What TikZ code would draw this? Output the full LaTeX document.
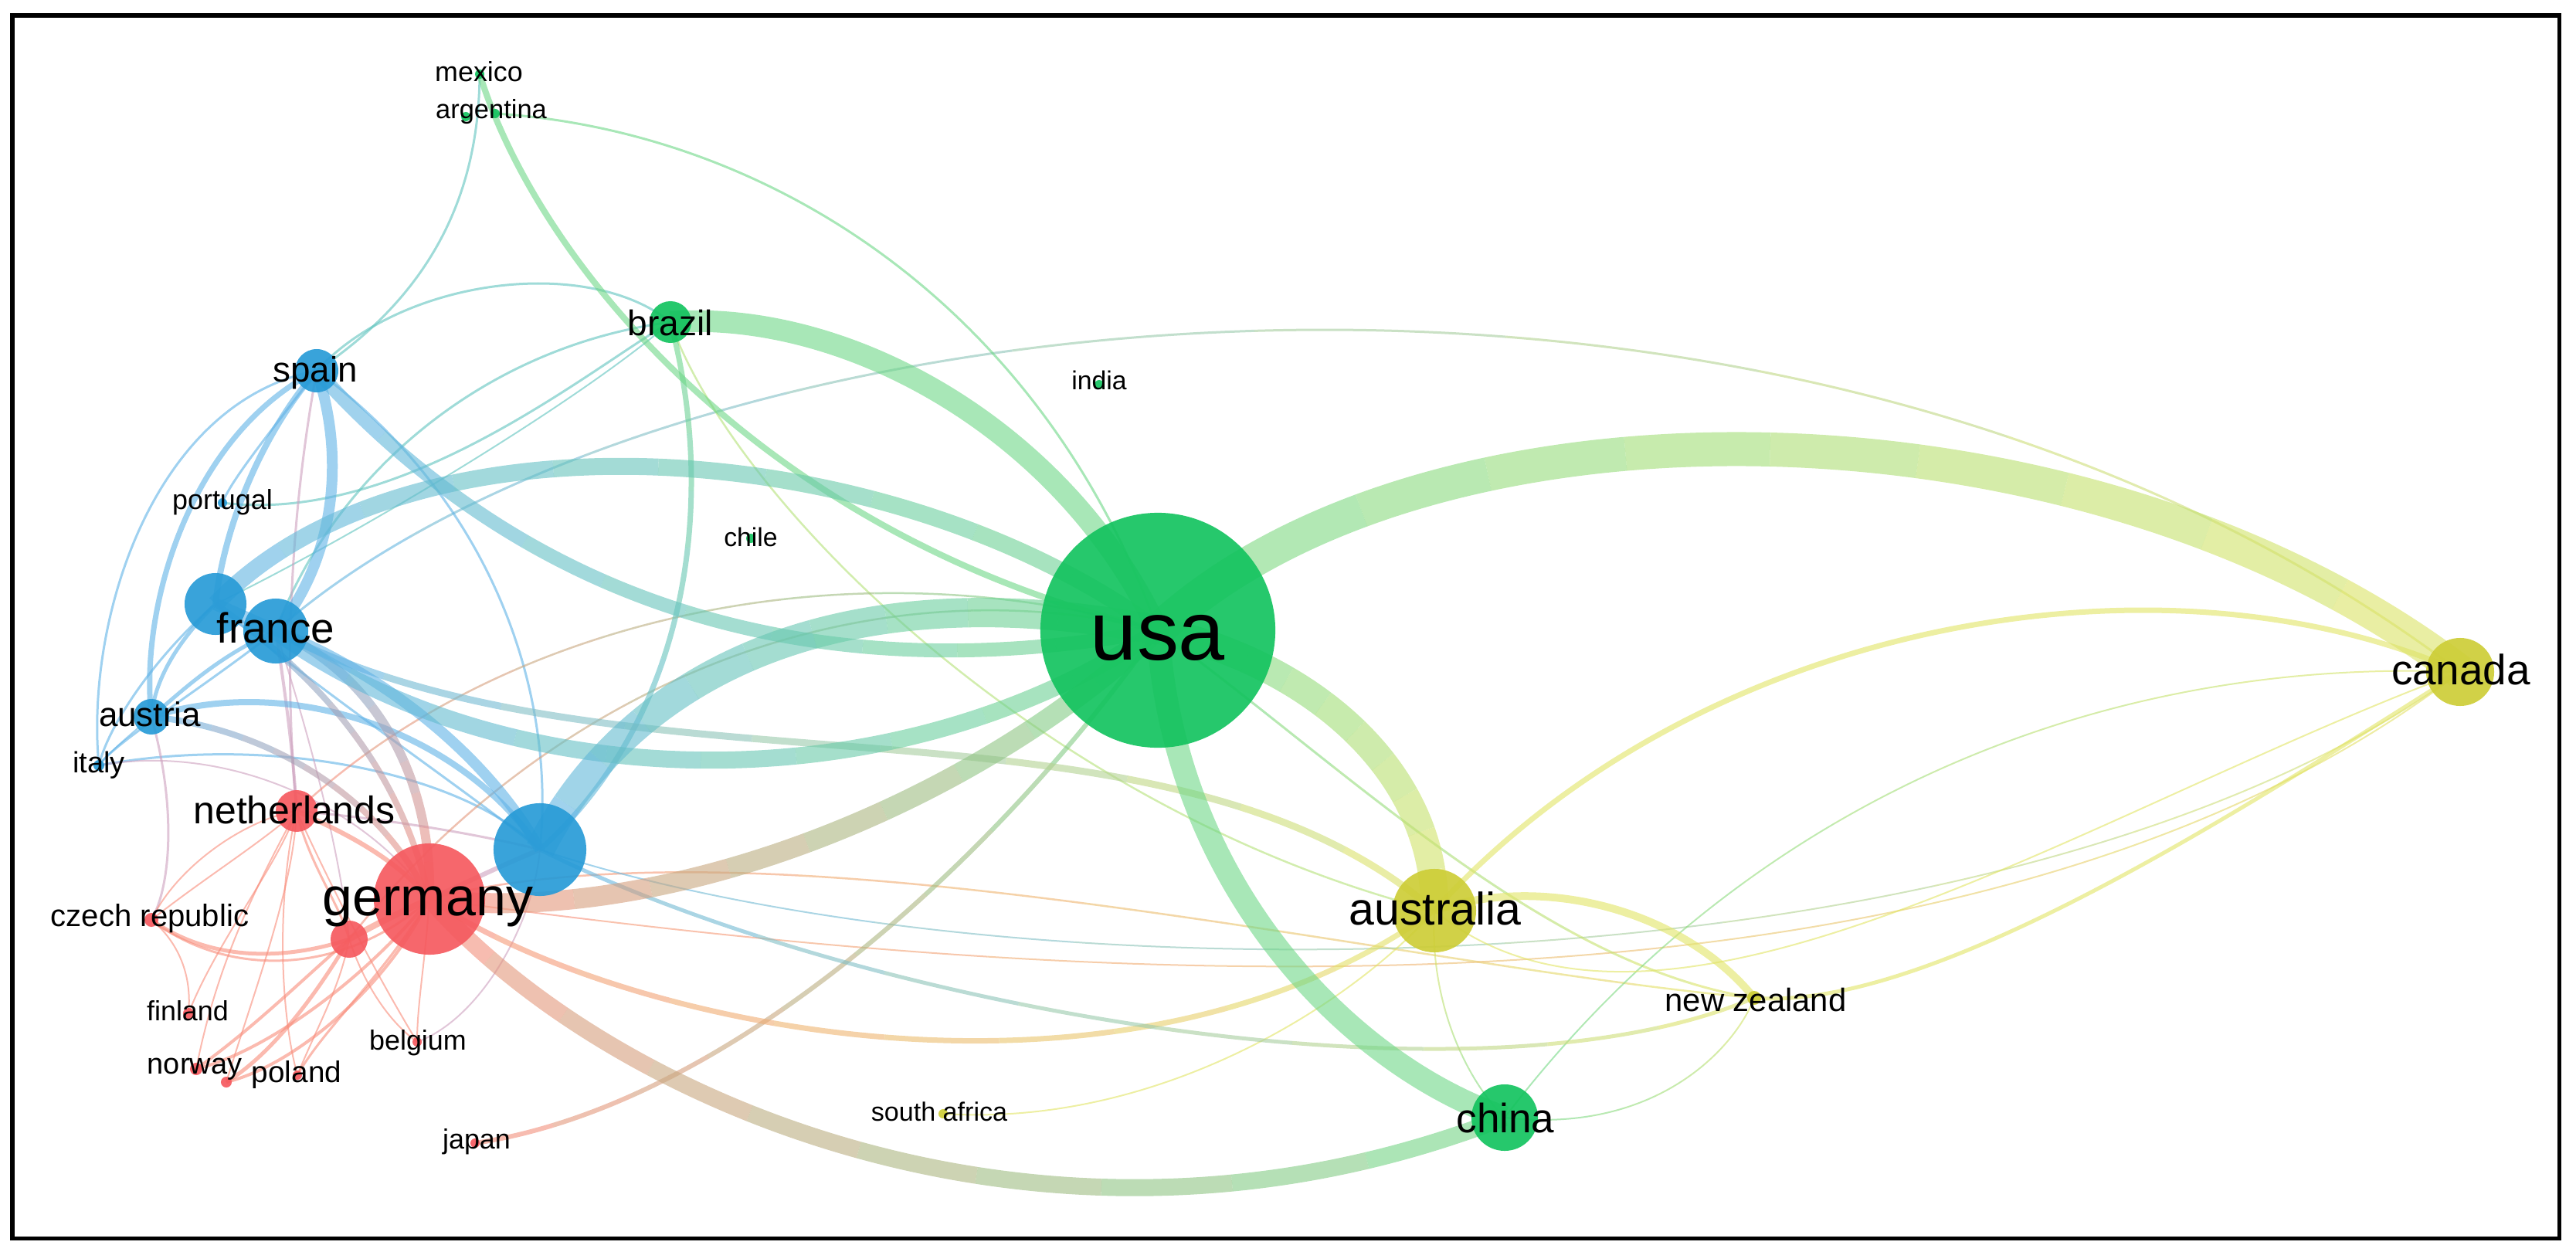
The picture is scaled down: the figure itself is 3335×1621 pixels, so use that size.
\documentclass[tikz,border=0pt]{standalone}
\usepackage{fontspec}
\setmainfont{Liberation Sans}
\definecolor{nG}{RGB}{20,195,95}
\definecolor{nB}{RGB}{40,155,215}
\definecolor{nR}{RGB}{245,90,95}
\definecolor{nY}{RGB}{205,205,55}
\definecolor{cG}{RGB}{110,215,135}
\definecolor{cB}{RGB}{95,178,230}
\definecolor{cR}{RGB}{248,140,122}
\definecolor{cY}{RGB}{225,228,100}
\definecolor{cBG}{RGB}{95,195,190}
\definecolor{cRB}{RGB}{205,160,190}
\definecolor{cRG}{RGB}{210,175,140}
\definecolor{cGY}{RGB}{180,225,120}
\definecolor{cBY}{RGB}{160,200,175}
\definecolor{cRY}{RGB}{245,175,110}
\newcommand\lnk[6]{\draw[#1,line width=#2*0.01cm] (#3) .. controls (#5) and (#6) .. (#4);}
% gradient connector: colour A, colour B, width, from, to, c1x, c1y, c2x, c2y
\newcommand\glnk[9]{%
  \foreach \k in {0,...,9}{%
    \pgfmathsetmacro\ta{\k/10}%
    \pgfmathsetmacro\tb{(\k+1)/10}%
    \pgfmathtruncatemacro\pc{100-(\k+0.5)*10}%
    \begin{pgfscope}%
      \pgfmathsetlengthmacro\lw{#3*0.01cm}%
      \pgfsetlinewidth{\lw}%
      \pgfsetstrokecolor{#1!\pc!#2}%
      \pgfsetstrokeopacity{0.6}%
      \pgfpathcurvebetweentime{\ta}{\tb}{\pgfpointanchor{#4}{center}}{\pgfpointxy{#6}{#7}}{\pgfpointxy{#8}{#9}}{\pgfpointanchor{#5}{center}}%
      \pgfusepath{stroke}%
    \end{pgfscope}}}
\newcommand\fsz[1]{\fontsize{#1}{#1}\selectfont}
\begin{document}
\begin{tikzpicture}[x=0.01cm,y=-0.01cm,
  eG/.style={draw=cG,draw opacity=0.6},
  eB/.style={draw=cB,draw opacity=0.6},
  eR/.style={draw=cR,draw opacity=0.6},
  eY/.style={draw=cY,draw opacity=0.6},
  eBG/.style={draw=cBG,draw opacity=0.6},
  eRB/.style={draw=cRB,draw opacity=0.6},
  eRG/.style={draw=cRG,draw opacity=0.6},
  eGY/.style={draw=cGY,draw opacity=0.6},
  eBY/.style={draw=cBY,draw opacity=0.6},
  eRY/.style={draw=cRY,draw opacity=0.6},
  nd/.style={circle,inner sep=0pt,draw=none,fill opacity=0.92},
  lb/.style={anchor=base,inner sep=0pt,text=black}]
\useasboundingbox (0,0) rectangle (3335,1621);
% node positions
\coordinate (usa) at (1499,816);
\coordinate (canada) at (3185,870);
\coordinate (australia) at (1857,1179);
\coordinate (china) at (1948,1447);
\coordinate (newzealand) at (2271,1292);
\coordinate (southafrica) at (1221,1442);
\coordinate (india) at (1423,498);
\coordinate (chile) at (972,697);
\coordinate (brazil) at (868,417);
\coordinate (mexico) at (621,96);
\coordinate (argentina) at (641,147);
\coordinate (arg2) at (603,151);
\coordinate (spain) at (410,480);
\coordinate (portugal) at (288,651);
\coordinate (blueL) at (279,782);
\coordinate (france) at (357,817);
\coordinate (austria) at (196,928);
\coordinate (italy) at (128,991);
\coordinate (netherlands) at (384,1050);
\coordinate (blueB) at (699,1100);
\coordinate (germany) at (556,1164);
\coordinate (redS) at (452,1216);
\coordinate (czech) at (196,1191);
\coordinate (finland) at (244,1312);
\coordinate (norway) at (254,1384);
\coordinate (norway2) at (293,1401);
\coordinate (poland) at (385,1392);
\coordinate (belgium) at (540,1349);
\coordinate (japan) at (615,1480);
% thin edges
\glnk{cB}{cY}{3}{france}{canada}{850}{380}{2300}{200}
\lnk{eG}{3}{argentina}{usa}{1000,170}{1350,400}
\lnk{eBG}{3}{spain}{mexico}{560,380}{620,250}
\lnk{eBG}{3}{spain}{brazil}{520,360}{760,330}
\lnk{eBG}{3}{portugal}{brazil}{520,680}{760,480}
\lnk{eBG}{3}{brazil}{france}{620,450}{430,620}
\lnk{eBG}{2}{brazil}{blueL}{750,520}{450,700}
\lnk{eGY}{2.5}{brazil}{australia}{950,650}{1350,1050}
\lnk{eB}{3}{spain}{italy}{200,520}{110,800}
\lnk{eB}{3}{spain}{portugal}{350,560}{300,620}
\lnk{eB}{3}{spain}{blueB}{640,650}{720,900}
\lnk{eRB}{3}{spain}{netherlands}{370,700}{370,900}
\lnk{eB}{3}{blueL}{italy}{200,850}{140,940}
\lnk{eB}{3}{france}{italy}{250,900}{150,960}
\lnk{eB}{2}{austria}{italy}{170,950}{140,975}
\lnk{eB}{3}{italy}{blueB}{350,950}{600,1000}
\lnk{eRB}{2}{italy}{germany}{300,960}{480,1050}
\lnk{eRB}{3}{austria}{czech}{230,1050}{220,1150}
\lnk{eB}{3}{blueL}{blueB}{420,900}{600,1020}
\lnk{eRB}{2}{france}{redS}{400,950}{440,1100}
\lnk{eRB}{3}{netherlands}{blueB}{500,1060}{620,1080}
\lnk{eR}{2}{czech}{netherlands}{230,1120}{320,1060}
\lnk{eR}{2}{czech}{netherlands}{260,1140}{340,1090}
\lnk{eR}{3}{czech}{germany}{300,1270}{450,1260}
\lnk{eR}{2}{finland}{czech}{250,1250}{220,1210}
\lnk{eR}{2}{finland}{netherlands}{280,1220}{360,1120}
\lnk{eR}{2}{norway}{netherlands}{280,1250}{330,1150}
\lnk{eR}{2}{norway2}{netherlands}{330,1280}{380,1150}
\lnk{eR}{2}{poland}{netherlands}{360,1300}{360,1150}
\lnk{eR}{2}{poland}{redS}{410,1330}{440,1280}
\lnk{eR}{3}{poland}{germany}{420,1330}{500,1260}
\lnk{eR}{2}{belgium}{germany}{540,1300}{550,1250}
\lnk{eR}{2}{belgium}{redS}{500,1320}{470,1270}
\lnk{eR}{2}{belgium}{netherlands}{480,1250}{420,1130}
\lnk{eRB}{2}{belgium}{blueB}{620,1320}{690,1200}
\glnk{cR}{cG}{2.5}{netherlands}{usa}{650}{800}{1100}{700}
\glnk{cR}{cG}{2.5}{redS}{usa}{700}{900}{1100}{720}
\glnk{cR}{cY}{2.5}{germany}{newzealand}{1000}{1050}{1800}{1250}
\glnk{cB}{cY}{2}{blueB}{canada}{1300}{1300}{2600}{1300}
\glnk{cR}{cY}{2}{germany}{canada}{1200}{1250}{2500}{1400}
\glnk{cG}{cY}{3}{usa}{newzealand}{1750}{1000}{2000}{1250}
\glnk{cG}{cY}{2}{china}{canada}{2250}{1050}{2700}{850}
\glnk{cG}{cY}{2}{china}{newzealand}{2150}{1470}{2250}{1350}
\glnk{cY}{cG}{2}{australia}{china}{1850}{1300}{1900}{1400}
\lnk{eY}{2}{southafrica}{australia}{1500,1460}{1750,1300}
\lnk{eY}{2}{australia}{canada}{2150,1420}{2700,1050}
% medium edges
\lnk{eR}{4}{norway}{redS}{330,1330}{400,1260}
\lnk{eR}{4}{norway}{germany}{350,1360}{480,1260}
\lnk{eR}{5}{norway2}{redS}{360,1360}{420,1270}
\lnk{eR}{4}{norway2}{germany}{380,1380}{500,1280}
\lnk{eR}{5}{czech}{redS}{280,1250}{380,1240}
\lnk{eR}{3}{netherlands}{redS}{400,1120}{440,1170}
\lnk{eR}{6}{netherlands}{germany}{450,1080}{510,1110}
\lnk{eR}{8}{redS}{germany}{480,1200}{520,1180}
\lnk{eRB}{6}{germany}{blueB}{610,1140}{650,1120}
\lnk{eRB}{4}{france}{netherlands}{370,900}{380,980}
\lnk{eB}{5}{blueL}{austria}{230,830}{200,880}
\lnk{eB}{5}{france}{austria}{280,850}{230,900}
\lnk{eB}{7}{spain}{austria}{250,560}{180,780}
\lnk{eB}{8}{spain}{blueL}{340,560}{290,680}
\lnk{eB}{8}{austria}{blueB}{380,870}{600,950}
\glnk{cB}{cR}{8}{austria}{germany}{320}{940}{480}{1010}
\glnk{cB}{cR}{8}{blueL}{germany}{420}{880}{520}{1000}
\glnk{cB}{cR}{12}{france}{germany}{480}{870}{560}{1000}
\glnk{cG}{cB}{7}{brazil}{blueB}{930}{650}{890}{930}
\lnk{eG}{8}{mexico}{usa}{700,350}{1000,700}
\glnk{cR}{cG}{6}{japan}{usa}{950}{1430}{1300}{1100}
\glnk{cR}{cY}{7}{germany}{australia}{800}{1330}{1450}{1470}
\glnk{cB}{cY}{5}{blueB}{newzealand}{1100}{1300}{1900}{1450}
\glnk{cB}{cY}{9}{france}{australia}{800}{1050}{1500}{870}
\lnk{eY}{5}{newzealand}{canada}{2500,1310}{2900,1050}
\lnk{eY}{7}{australia}{canada}{2200,800}{2800,700}
\lnk{eY}{10}{australia}{newzealand}{2000,1130}{2180,1180}
% thick edges
\lnk{eB}{14}{spain}{france}{450,600}{430,730}
\lnk{eB}{16}{blueL}{france}{305,794}{331,805}
\lnk{eB}{14}{france}{blueB}{470,860}{620,960}
\glnk{cB}{cG}{18}{spain}{usa}{680}{780}{1050}{900}
\glnk{cB}{cG}{22}{blueL}{usa}{530}{520}{1150}{560}
\glnk{cB}{cG}{22}{france}{usa}{650}{1030}{1150}{1050}
\glnk{cB}{cG}{38}{blueB}{usa}{800}{900}{1050}{730}
\glnk{cR}{cG}{26}{germany}{usa}{850}{1200}{1250}{1050}
\glnk{cR}{cG}{22}{germany}{china}{780}{1420}{1350}{1680}
\lnk{eG}{30}{usa}{china}{1520,1150}{1750,1380}
\lnk{eG}{28}{brazil}{usa}{1100,400}{1380,560}
\glnk{cG}{cY}{36}{usa}{australia}{1700}{860}{1860}{1000}
\glnk{cG}{cY}{44}{usa}{canada}{1850}{490}{2700}{500}
% nodes
\node[nd,fill=nG,minimum size=3.04cm] (usa-n) at (usa) {};
\node[nd,fill=nY,minimum size=0.88cm] (canada-n) at (canada) {};
\node[nd,fill=nY,minimum size=1.08cm] (australia-n) at (australia) {};
\node[nd,fill=nG,minimum size=0.86cm] (china-n) at (china) {};
\node[nd,fill=nY,minimum size=0.18cm] (newzealand-n) at (newzealand) {};
\node[nd,fill=nY,minimum size=0.12cm] (southafrica-n) at (southafrica) {};
\node[nd,fill=nG,minimum size=0.12cm] (india-n) at (india) {};
\node[nd,fill=nG,minimum size=0.12cm] (chile-n) at (chile) {};
\node[nd,fill=nG,minimum size=0.54cm] (brazil-n) at (brazil) {};
\node[nd,fill=nG,minimum size=0.12cm] (mexico-n) at (mexico) {};
\node[nd,fill=nG,minimum size=0.12cm] (argentina-n) at (argentina) {};
\node[nd,fill=nG,minimum size=0.12cm] (arg2-n) at (arg2) {};
\node[nd,fill=nB,minimum size=0.56cm] (spain-n) at (spain) {};
\node[nd,fill=nB,minimum size=0.12cm] (portugal-n) at (portugal) {};
\node[nd,fill=nB,minimum size=0.80cm] (blueL-n) at (blueL) {};
\node[nd,fill=nB,minimum size=0.84cm] (france-n) at (france) {};
\node[nd,fill=nB,minimum size=0.46cm] (austria-n) at (austria) {};
\node[nd,fill=nB,minimum size=0.14cm] (italy-n) at (italy) {};
\node[nd,fill=nR,minimum size=0.54cm] (netherlands-n) at (netherlands) {};
\node[nd,fill=nB,minimum size=1.20cm] (blueB-n) at (blueB) {};
\node[nd,fill=nR,minimum size=1.44cm] (germany-n) at (germany) {};
\node[nd,fill=nR,minimum size=0.48cm] (redS-n) at (redS) {};
\node[nd,fill=nR,minimum size=0.18cm] (czech-n) at (czech) {};
\node[nd,fill=nR,minimum size=0.14cm] (finland-n) at (finland) {};
\node[nd,fill=nR,minimum size=0.16cm] (norway-n) at (norway) {};
\node[nd,fill=nR,minimum size=0.14cm] (norway2-n) at (norway2) {};
\node[nd,fill=nR,minimum size=0.12cm] (poland-n) at (poland) {};
\node[nd,fill=nR,minimum size=0.12cm] (belgium-n) at (belgium) {};
\node[nd,fill=nR,minimum size=0.12cm] (japan-n) at (japan) {};
% labels
\node[lb,font=\fsz{30.7}] (usa-t) at (1499,854) {usa};
\node[lb,font=\fsz{15.6}] (canada-t) at (3186,886) {canada};
\node[lb,font=\fsz{16.8}] (australia-t) at (1858,1197) {australia};
\node[lb,font=\fsz{15.1}] (china-t) at (1949,1466) {china};
\node[lb,font=\fsz{11.9}] (newzealand-t) at (2273,1309) {new zealand};
\node[lb,font=\fsz{9.7}] (southafrica-t) at (1216,1451) {south africa};
\node[lb,font=\fsz{9.6}] (india-t) at (1423,504) {india};
\node[lb,font=\fsz{9.6}] (chile-t) at (972,707) {chile};
\node[lb,font=\fsz{13.1}] (brazil-t) at (868,434) {brazil};
\node[lb,font=\fsz{10.2}] (mexico-t) at (620,105) {mexico};
\node[lb,font=\fsz{9.8}] (argentina-t) at (636,153) {argentina};
\node[lb,font=\fsz{13.0}] (spain-t) at (408,494) {spain};
\node[lb,font=\fsz{10.2}] (portugal-t) at (288,659) {portugal};
\node[lb,font=\fsz{15.6}] (france-t) at (357,832) {france};
\node[lb,font=\fsz{12.5}] (austria-t) at (194,940) {austria};
\node[lb,font=\fsz{10.8}] (italy-t) at (128,1000) {italy};
\node[lb,font=\fsz{14.2}] (netherlands-t) at (381,1066) {netherlands};
\node[lb,font=\fsz{19.9}] (germany-t) at (554,1185) {germany};
\node[lb,font=\fsz{11.4}] (czech-t) at (194,1199) {czech republic};
\node[lb,font=\fsz{10.2}] (finland-t) at (243,1321) {finland};
\node[lb,font=\fsz{10.8}] (norway-t) at (252,1390) {norway};
\node[lb,font=\fsz{11.0}] (poland-t) at (384,1401) {poland};
\node[lb,font=\fsz{10.2}] (belgium-t) at (541,1359) {belgium};
\node[lb,font=\fsz{10.2}] (japan-t) at (617,1487) {japan};
% frame
\draw[line width=0.05cm] (16,20) rectangle (3313,1603);
\end{tikzpicture}
\end{document}
